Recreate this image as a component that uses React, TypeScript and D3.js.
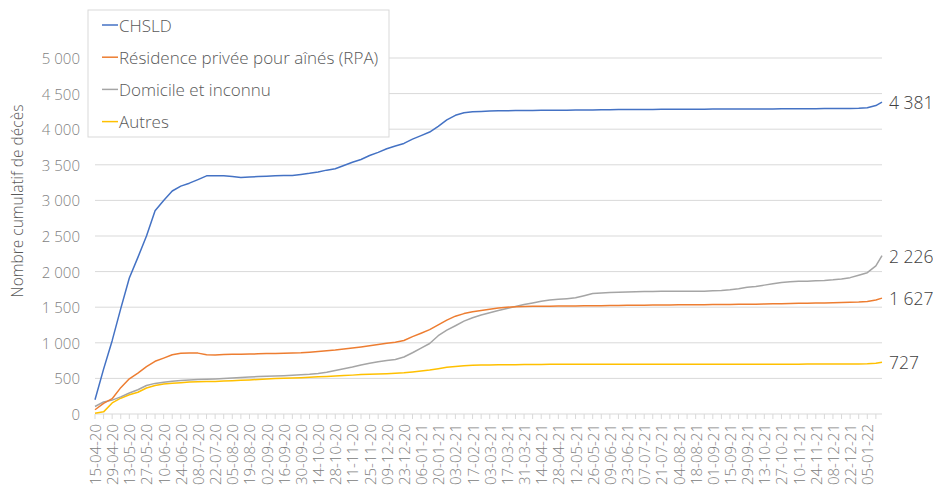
import React from 'react';
import * as d3 from 'd3';

// weekly readings from 15-04-20, last point is 17-01-22
const startDate = new Date(2020, 3, 15);
const endDate = new Date(2022, 0, 17);

const seriesNames = ['CHSLD', 'Résidence privée pour aînés (RPA)', 'Domicile et inconnu', 'Autres'];
const seriesColors = ['#4472C4', '#ED7D31', '#A5A5A5', '#FFC000'];
const endLabels = ['4 381', '1 627', '2 226', '727'];

const chsld = [
  200, 630, 1030, 1480, 1910, 2200, 2500, 2855, 3000, 3132, 3200, 3242, 3292, 3345, 3345, 3345,
  3335, 3320, 3330, 3335, 3340, 3345, 3348, 3350, 3365, 3380, 3400, 3425, 3445, 3490, 3535, 3575,
  3630, 3675, 3725, 3765, 3800, 3860, 3910, 3960, 4040, 4130, 4195, 4230, 4245, 4250, 4255, 4258,
  4260, 4262, 4263, 4264, 4265, 4266, 4266, 4267, 4268, 4268, 4270, 4272, 4274, 4275, 4276, 4277,
  4278, 4278, 4279, 4280, 4280, 4280, 4281, 4281, 4282, 4282, 4283, 4283, 4284, 4284, 4285, 4285,
  4286, 4286, 4287, 4287, 4288, 4289, 4290, 4291, 4292, 4294, 4302, 4332, 4381,
];

const rpa = [
  60, 150, 215, 370, 495, 575, 665, 740, 785, 833, 852, 855, 855, 832, 830, 835,
  838, 838, 842, 845, 848, 850, 852, 855, 860, 868, 878, 888, 898, 912, 928, 942,
  958, 975, 993, 1008, 1032, 1087, 1135, 1185, 1252, 1318, 1374, 1410, 1436, 1455, 1472, 1489,
  1499, 1506, 1510, 1512, 1514, 1515, 1516, 1517, 1518, 1519, 1520, 1522, 1524, 1525, 1527, 1528,
  1529, 1530, 1531, 1532, 1533, 1534, 1535, 1536, 1537, 1538, 1539, 1540, 1541, 1543, 1545, 1547,
  1550, 1552, 1554, 1556, 1558, 1560, 1562, 1565, 1568, 1572, 1580, 1600, 1627,
];

const domicile = [
  105, 170, 195, 240, 295, 340, 400, 430, 445, 460, 470, 478, 483, 488, 493, 498,
  505, 512, 520, 526, 530, 534, 538, 543, 550, 558, 570, 585, 612, 635, 660, 688,
  712, 735, 752, 765, 800, 860, 925, 990, 1100, 1178, 1240, 1305, 1352, 1390, 1422, 1453,
  1482, 1510, 1537, 1560, 1582, 1600, 1610, 1620, 1632, 1662, 1692, 1700, 1705, 1710, 1713, 1716,
  1719, 1721, 1723, 1723, 1723, 1723, 1724, 1725, 1730, 1735, 1745, 1760, 1780, 1792, 1810, 1830,
  1848, 1858, 1863, 1866, 1870, 1876, 1885, 1897, 1915, 1950, 1985, 2080, 2226,
];

const autres = [
  10, 30, 155, 222, 270, 305, 365, 400, 420, 432, 440, 450, 453, 455, 458, 462,
  467, 473, 478, 485, 492, 497, 502, 506, 510, 516, 522, 528, 534, 540, 546, 554,
  558, 562, 566, 572, 578, 590, 604, 618, 636, 655, 668, 677, 683, 687, 689, 690,
  692, 693, 694, 695, 696, 697, 697, 697, 698, 698, 698, 698, 698, 698, 698, 698,
  698, 698, 698, 698, 698, 698, 699, 699, 699, 699, 699, 699, 699, 700, 700, 700,
  700, 700, 700, 701, 701, 701, 701, 702, 702, 702, 705, 712, 727,
];

const seriesValues = [chsld, rpa, domicile, autres];
const yTicks = [0, 500, 1000, 1500, 2000, 2500, 3000, 3500, 4000, 4500, 5000];

const dates = d3
  .range(chsld.length - 1)
  .map(i => d3.timeDay.offset(startDate, 7 * i))
  .concat([endDate]);
const weekTicks = dates.slice(0, dates.length - 1);

const frLocale = d3.formatLocale({decimal: ',', thousands: ' ', grouping: [3], currency: ['', ' $']});
const fmtY = frLocale.format(',');
const fmtX = d3.timeFormat('%d-%m-%y');

const FONT = '"Open Sans", "DejaVu Sans", sans-serif';

export default function App() {
  const width = 933;
  const height = 487;
  const plot = {left: 95, right: 882, top: 58, bottom: 414};

  const x = d3.scaleTime().domain([startDate, endDate]).range([plot.left, plot.right]);
  const y = d3.scaleLinear().domain([0, 5000]).range([plot.bottom, plot.top]);

  const line = d3
    .line<number>()
    .x((d, i) => x(dates[i]))
    .y(d => y(d));

  // yellow at the bottom, blue on top
  const drawOrder = [3, 2, 1, 0];

  return (
    <svg width={width} height={height} style={{position: 'absolute', left: 0, top: 0, background: '#fff'}}>
      {/* gridlines */}
      {yTicks.map(t => (
        <line key={t} x1={plot.left} x2={plot.right} y1={y(t)} y2={y(t)} stroke="#d9d9d9" strokeWidth={1} />
      ))}
      {/* y labels */}
      {yTicks.map(t => (
        <text
          key={'yl' + t}
          x={80}
          y={y(t)}
          textAnchor="end"
          dominantBaseline="central"
          fontFamily={FONT}
          fontWeight={300}
          fontSize={15}
          fill="#7f7f7f">
          {fmtY(t)}
        </text>
      ))}
      <text
        transform={`translate(17,201) rotate(-90)`}
        textAnchor="middle"
        dominantBaseline="central"
        fontFamily={FONT}
        fontWeight={300}
        fontSize={15.5}
        fill="#595959">
        Nombre cumulatif de décès
      </text>

      {/* x ticks every week, labels every two weeks */}
      {weekTicks.map((d, i) => (
        <line key={'xt' + i} x1={x(d)} x2={x(d)} y1={plot.bottom} y2={plot.bottom + 5} stroke="#d9d9d9" />
      ))}
      {weekTicks
        .filter((d, i) => i % 2 === 0)
        .map((d, i) => (
          <text
            key={'xl' + i}
            transform={`translate(${x(d)},${424}) rotate(-90)`}
            textAnchor="end"
            dominantBaseline="central"
            fontFamily={FONT}
            fontWeight={300}
            fontSize={15}
            fill="#808080">
            {fmtX(d)}
          </text>
        ))}

      {/* series */}
      {drawOrder.map(s => (
        <path
          key={'s' + s}
          d={line(seriesValues[s]) || ''}
          fill="none"
          stroke={seriesColors[s]}
          strokeWidth={1.5}
          strokeLinejoin="round"
        />
      ))}

      {/* end labels */}
      {seriesValues.map((vals, s) => (
        <text
          key={'el' + s}
          x={x(endDate) + 7}
          y={y(vals[vals.length - 1])}
          dominantBaseline="central"
          fontFamily={FONT}
          fontWeight={300}
          fontSize={17.5}
          fill="#404040">
          {endLabels[s]}
        </text>
      ))}

      {/* legend */}
      <rect x={88} y={10} width={301} height={127} fill="#fff" stroke="#d9d9d9" />
      {seriesNames.map((name, s) => (
        <g key={'lg' + s} transform={`translate(0,${25 + s * 32.2})`}>
          <line x1={102} x2={118} y1={0} y2={0} stroke={seriesColors[s]} strokeWidth={1.5} />
          <text
            x={119}
            y={0}
            dominantBaseline="central"
            fontFamily={FONT}
            fontWeight={300}
            fontSize={17}
            fill="#595959">
            {name}
          </text>
        </g>
      ))}
    </svg>
  );
}
